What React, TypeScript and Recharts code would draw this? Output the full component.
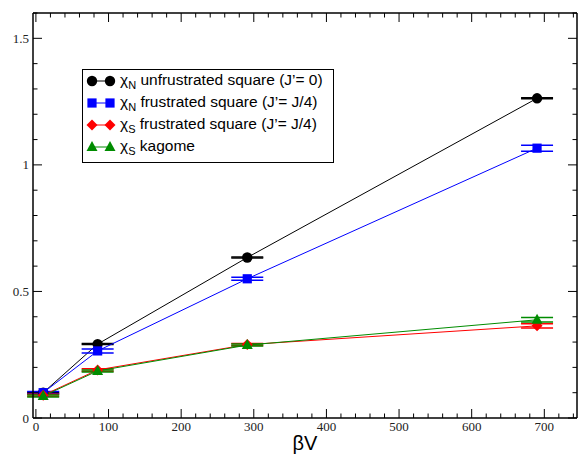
import React from 'react';
import { LineChart, Line, XAxis, YAxis, ErrorBar, Legend, ReferenceLine } from 'recharts';

const betaV = [10, 85, 291, 690];
const chiNUnfrustrated = [0.1, 0.292, 0.634, 1.263];
const chiNUnfrustratedErr = [0.002, 0.002, 0.002, 0.002];
const chiNFrustrated = [0.1, 0.265, 0.55, 1.066];
const chiNFrustratedErr = [0.005, 0.008, 0.006, 0.012];
const chiSFrustrated = [0.09, 0.19, 0.29, 0.364];
const chiSFrustratedErr = [0.004, 0.005, 0.004, 0.008];
const chiSKagome = [0.087, 0.186, 0.288, 0.388];
const chiSKagomeErr = [0.004, 0.004, 0.004, 0.009];

const xMajorTicks = [0, 100, 200, 300, 400, 500, 600, 700];
const xMinorTicks = [20, 40, 60, 80, 120, 140, 160, 180, 220, 240, 260, 280, 320, 340, 360, 380, 420, 440, 460, 480, 520, 540, 560, 580, 620, 640, 660, 680, 720, 740];
const yMajorTicks = [0, 0.5, 1, 1.5];
const yMinorTicks = [0.1, 0.2, 0.3, 0.4, 0.6, 0.7, 0.8, 0.9, 1.1, 1.2, 1.3, 1.4, 1.6];

const seriesNames = [
  { sym: 'N', text: 'unfrustrated square (J\u2019= 0)' },
  { sym: 'N', text: 'frustrated square (J\u2019= J/4)' },
  { sym: 'S', text: 'frustrated square (J\u2019= J/4)' },
  { sym: 'S', text: 'kagome' },
];
const colors = ['#000000', '#0000ff', '#ff0000', '#008c00'];
const shapes = ['circle', 'square', 'diamond', 'triangle'];

const build = (ys: number[], errs: number[]) => betaV.map((x, i) => ({ x, y: ys[i], err: errs[i] }));
const series = [
  build(chiNUnfrustrated, chiNUnfrustratedErr),
  build(chiNFrustrated, chiNFrustratedErr),
  build(chiSFrustrated, chiSFrustratedErr),
  build(chiSKagome, chiSKagomeErr),
];

const X_DOMAIN: [number, number] = [-4, 745];
const Y_DOMAIN: [number, number] = [0, 1.6];
const MAJ = 9;
const MIN = 4.5;
const serif = "'Liberation Serif', 'Times New Roman', serif";
const sans = "'Liberation Sans', Arial, sans-serif";

const Marker = ({ shape, cx, cy, color }: any) => {
  if (cx == null || cy == null) return null;
  if (shape === 'circle') return <circle cx={cx} cy={cy} r={5.2} fill={color} />;
  if (shape === 'square') return <rect x={cx - 4.6} y={cy - 4.6} width={9.2} height={9.2} fill={color} />;
  if (shape === 'diamond')
    return <polygon points={`${cx},${cy - 5.5} ${cx + 5.5},${cy} ${cx},${cy + 5.5} ${cx - 5.5},${cy}`} fill={color} />;
  return <polygon points={`${cx},${cy - 6} ${cx + 5.5},${cy + 4} ${cx - 5.5},${cy + 4}`} fill={color} />;
};

// Inward tick marks: a reference line through the tick value, drawn only as two short stubs at the frame.
const vTickShape = (len: number) => (p: any) => {
  const { x1, y1, x2, y2 } = p;
  if (![x1, y1, x2, y2].every((v) => typeof v === 'number' && isFinite(v))) return <g />;
  const top = Math.min(y1, y2);
  const bot = Math.max(y1, y2);
  return (
    <g>
      <line x1={x1} x2={x1} y1={bot} y2={bot - len} stroke="#000" strokeWidth={1} />
      <line x1={x1} x2={x1} y1={top} y2={top + len} stroke="#000" strokeWidth={1} />
    </g>
  );
};
const hTickShape = (len: number) => (p: any) => {
  const { x1, y1, x2, y2 } = p;
  if (![x1, y1, x2, y2].every((v) => typeof v === 'number' && isFinite(v))) return <g />;
  const l = Math.min(x1, x2);
  const r = Math.max(x1, x2);
  return (
    <g>
      <line x1={l} x2={l + len} y1={y1} y2={y1} stroke="#000" strokeWidth={1} />
      <line x1={r} x2={r - len} y1={y1} y2={y1} stroke="#000" strokeWidth={1} />
    </g>
  );
};

const LegendBox = () => (
  <div
    style={{
      border: '1px solid #000',
      background: '#fff',
      width: 252,
      height: 94,
      boxSizing: 'border-box',
      padding: '0px 0 0 3px',
      fontFamily: sans,
      fontSize: 15.5,
      color: '#000',
    }}
  >
    {seriesNames.map((s, i) => (
      <div key={i} style={{ height: 22, display: 'flex', alignItems: 'center', whiteSpace: 'nowrap' }}>
        <svg width={34} height={16} style={{ flex: 'none' }}>
          <line x1={6} x2={24} y1={8} y2={8} stroke={colors[i]} strokeWidth={1} />
          <Marker shape={shapes[i]} cx={6} cy={8} color={colors[i]} />
          <Marker shape={shapes[i]} cx={24} cy={8} color={colors[i]} />
        </svg>
        <span>
          {'\u03c7'}
          <sub style={{ fontSize: 11, verticalAlign: -4 }}>{s.sym}</sub> {s.text}
        </span>
      </div>
    ))}
  </div>
);

const frameLine = { stroke: '#000', strokeWidth: 1.5 };
const labelStyle = { fontFamily: serif, fontSize: 13, fill: '#222' };

export default function App() {
  return (
    <div style={{ position: 'absolute', left: 0, top: 0, width: 580, height: 454, background: '#fff' }}>
      <LineChart width={580} height={454} margin={{ top: 13, right: 3, bottom: 0, left: 0 }}>
        <XAxis
          dataKey="x"
          type="number"
          domain={X_DOMAIN}
          allowDataOverflow
          ticks={xMajorTicks}
          interval={0}
          height={36}
          tickSize={0}
          tickMargin={4}
          tickLine={false}
          axisLine={frameLine}
          tick={labelStyle}
          label={{ value: '\u03b2V', position: 'insideBottom', offset: 4, style: { fontFamily: sans, fontSize: 20, fill: '#000' } }}
        />
        <YAxis
          type="number"
          domain={Y_DOMAIN}
          allowDataOverflow
          ticks={yMajorTicks}
          interval={0}
          width={33}
          tickSize={0}
          tickMargin={4}
          tickLine={false}
          axisLine={frameLine}
          tick={labelStyle}
        />
        <XAxis xAxisId="topFrame" orientation="top" type="number" domain={X_DOMAIN} allowDataOverflow mirror height={1} tick={false} tickLine={false} axisLine={frameLine} />
        <YAxis yAxisId="rightFrame" orientation="right" type="number" domain={Y_DOMAIN} allowDataOverflow mirror width={1} tick={false} tickLine={false} axisLine={frameLine} />

        {xMajorTicks.map((v) => (
          <ReferenceLine key={`xM${v}`} x={v} stroke="none" ifOverflow="visible" shape={vTickShape(MAJ)} />
        ))}
        {xMinorTicks.map((v) => (
          <ReferenceLine key={`xm${v}`} x={v} stroke="none" ifOverflow="visible" shape={vTickShape(MIN)} />
        ))}
        {yMajorTicks.map((v) => (
          <ReferenceLine key={`yM${v}`} y={v} stroke="none" ifOverflow="visible" shape={hTickShape(MAJ)} />
        ))}
        {yMinorTicks.map((v) => (
          <ReferenceLine key={`ym${v}`} y={v} stroke="none" ifOverflow="visible" shape={hTickShape(MIN)} />
        ))}

        {series.map((d, i) => (
          <Line
            key={i}
            data={d}
            dataKey="y"
            type="linear"
            stroke={colors[i]}
            strokeWidth={1}
            isAnimationActive={false}
            legendType="none"
            dot={(p: any) => <Marker key={`d${i}-${p.index}`} shape={shapes[i]} cx={p.cx} cy={p.cy} color={colors[i]} />}
            activeDot={false}
          >
            <ErrorBar dataKey="err" direction="y" width={16} stroke={colors[i]} strokeWidth={1.5} isAnimationActive={false} />
          </Line>
        ))}
        <Legend
          layout="vertical"
          align="center"
          verticalAlign="middle"
          content={() => <LegendBox />}
          wrapperStyle={{ position: 'absolute', left: 82, top: 69, width: 252, height: 94 }}
        />
      </LineChart>
    </div>
  );
}
